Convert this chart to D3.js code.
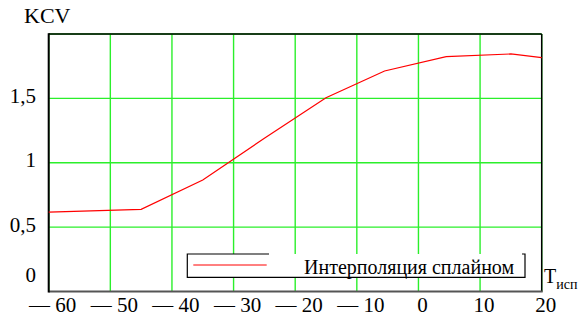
<!DOCTYPE html>
<html>
<head>
<meta charset="utf-8">
<script src="https://cdn.jsdelivr.net/npm/d3@7"></script>
<style>
  body { margin: 0; background: #fff; }
</style>
</head>
<body>
<div id="container"></div>
<script>
"use strict";

const width = 582;
const height = 320;

// spline data
const temps = [-60, -45, -35, -25, -15, -5.5, 4.5, 15, 20];
const kcv = [0.617, 0.638, 0.866, 1.19, 1.505, 1.713, 1.824, 1.845, 1.816];

const xTicks = [-60, -50, -40, -30, -20, -10, 0, 10, 20];
const yTicks = [0, 0.5, 1, 1.5];
const yGrid = [0.5, 1, 1.5, 2];

const yTitle = "KCV";
const xTitle = "T";
const xTitleSub = "исп";
const legendLabel = "Интерполяция сплайном";

const serif = "'Liberation Serif', 'Times New Roman', serif";

const margin = { left: 48.7, right: 541.7, top: 34, bottom: 291.5 };

const x = d3.scaleLinear().domain([-60, 20]).range([margin.left, margin.right]);
const y = d3.scaleLinear().domain([0, 2]).range([margin.bottom, margin.top]);

const svg = d3.select("#container").append("svg")
    .attr("width", width)
    .attr("height", height)
    .attr("font-family", serif);

// green grid
const green = "#2bef2b";
svg.append("g").selectAll("line")
    .data(xTicks)
    .enter().append("line")
    .attr("x1", d => x(d)).attr("x2", d => x(d))
    .attr("y1", margin.top).attr("y2", margin.bottom)
    .style("stroke", green)
    .style("stroke-width", 1.4);

svg.append("g").selectAll("line")
    .data(yGrid)
    .enter().append("line")
    .attr("x1", margin.left).attr("x2", margin.right)
    .attr("y1", d => y(d)).attr("y2", d => y(d))
    .style("stroke", green)
    .style("stroke-width", 1.4);

// frame
svg.append("line")
    .attr("x1", margin.left).attr("x2", margin.right)
    .attr("y1", margin.top).attr("y2", margin.top)
    .style("stroke", "#000").style("stroke-width", 1.3);
svg.append("line")
    .attr("x1", margin.right).attr("x2", margin.right)
    .attr("y1", margin.top).attr("y2", margin.bottom)
    .style("stroke", "#000").style("stroke-width", 1.5);
svg.append("line")
    .attr("x1", margin.left).attr("x2", margin.right + 1)
    .attr("y1", margin.bottom).attr("y2", margin.bottom)
    .style("stroke", "#555").style("stroke-width", 2);
svg.append("line")
    .attr("x1", margin.left).attr("x2", margin.left)
    .attr("y1", margin.top - 0.7).attr("y2", margin.bottom + 1)
    .style("stroke", "#000").style("stroke-width", 2);

// curve
const line = d3.line()
    .x((d, i) => x(temps[i]))
    .y(d => y(d));

svg.append("path")
    .datum(kcv)
    .attr("fill", "none")
    .attr("stroke", "#f00")
    .attr("stroke-width", 1.2)
    .attr("d", line);

// tick labels
svg.append("g").selectAll("text")
    .data(xTicks)
    .enter().append("text")
    .attr("x", d => x(d) + 4)
    .attr("y", margin.bottom + 20.5)
    .attr("text-anchor", "middle")
    .attr("font-size", 21)
    .text(d => d < 0 ? "\u2014 " + (-d) : d);

// the 0 label sits above the x axis, like in Mathcad
svg.append("g").selectAll("text")
    .data(yTicks)
    .enter().append("text")
    .attr("x", 36)
    .attr("y", d => d === 0 ? y(d) - 10 : y(d) + 4.5)
    .attr("text-anchor", "end")
    .attr("font-size", 21)
    .text(d => String(d).replace(".", ","));

// axis titles
svg.append("text")
    .attr("x", 24)
    .attr("y", 22.7)
    .attr("font-size", 22)
    .text(yTitle);

let xt = svg.append("text")
    .attr("x", 544)
    .attr("y", 283.3)
    .attr("font-size", 20);
xt.append("tspan").text(xTitle);
xt.append("tspan")
    .attr("y", 289)
    .attr("font-size", 14)
    .text(xTitleSub);

// legend
const lg = svg.append("g");
lg.append("rect")
    .attr("x", 187.3).attr("y", 254)
    .attr("width", 525 - 187.3).attr("height", 277.3 - 254)
    .style("fill", "#fff").style("stroke", "none");
lg.append("path")
    .attr("d", "M269,254H187.3V277.3H525V254H522")
    .attr("fill", "none")
    .attr("stroke", "#000")
    .attr("stroke-width", 1.2);
lg.append("line")
    .attr("x1", 193.3).attr("x2", 266.7)
    .attr("y1", 265).attr("y2", 265)
    .style("stroke", "#f00").style("stroke-width", 1);
lg.append("text")
    .attr("x", 304)
    .attr("y", 274)
    .attr("font-size", 20)
    .text(legendLabel);
</script>
</body>
</html>
